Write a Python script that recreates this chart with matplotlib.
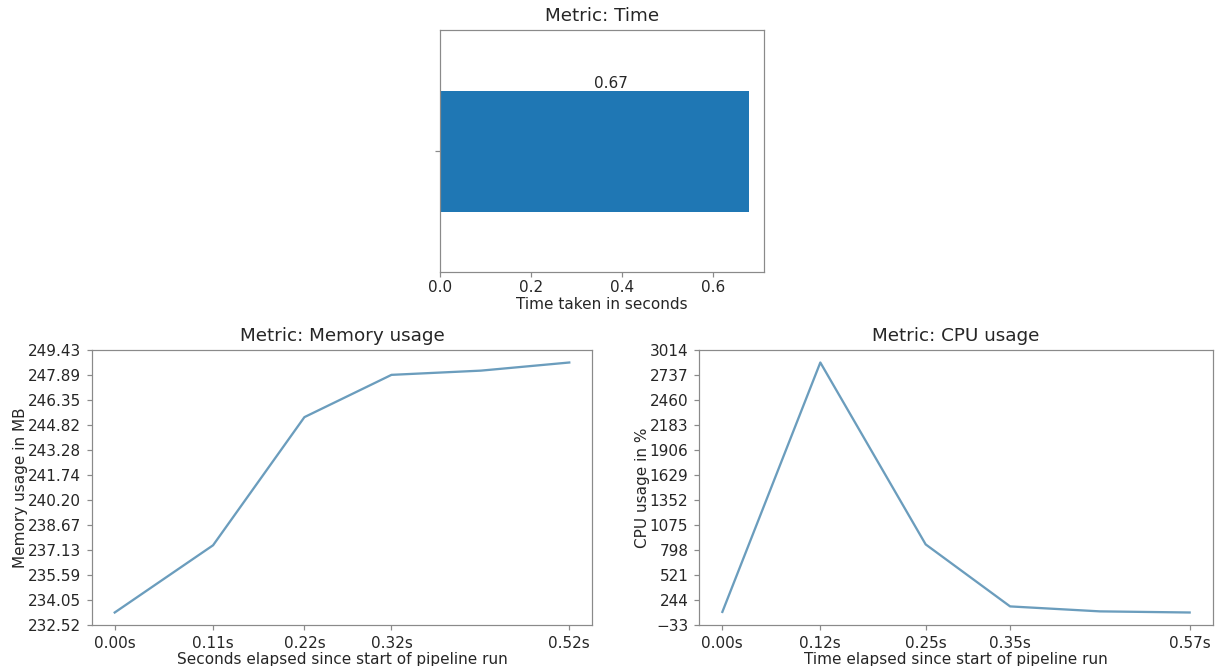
import numpy as np
import matplotlib
matplotlib.use("Agg")
import matplotlib.pyplot as plt

# values
time_taken = [0.678]
time_label = "0.67"

mem_x = [0.0, 0.1125, 0.217, 0.3166, 0.4189, 0.52]
mem_y = [233.285, 237.42, 245.30, 247.90, 248.16, 248.66]
mem_xticks = [0.0, 0.1125, 0.217, 0.3166, 0.52]

cpu_x = [0.0, 0.1195, 0.248, 0.351, 0.4605, 0.57]
cpu_y = [112.0, 2875.5, 860.0, 173.0, 118.0, 105.5]
cpu_xticks = [0.0, 0.1195, 0.248, 0.351, 0.57]

line_color = "#6b9dbd"
spine_color = "#8a8a8a"
text_color = "#262626"

plt.rcParams["text.color"] = text_color
plt.rcParams["axes.labelcolor"] = text_color
plt.rcParams["xtick.color"] = spine_color
plt.rcParams["ytick.color"] = spine_color
plt.rcParams["xtick.labelcolor"] = text_color
plt.rcParams["ytick.labelcolor"] = text_color
plt.rcParams["axes.edgecolor"] = spine_color

fig = plt.figure(figsize=(1217 / 110, 666 / 110), dpi=110)

W, H = 1217, 666
def box(l, t, r, b):
    return [l / W, 1 - b / H, (r - l) / W, (b - t) / H]

# top: time bar
ax1 = fig.add_axes(box(440, 30, 764, 272))
ax1.barh([0], time_taken, height=0.5, color="#1f77b4")
ax1.set_ylim(-0.5, 0.5)
ax1.set_xlim(0, time_taken[0] * 1.05)
ax1.set_yticks([0])
ax1.set_yticklabels([""])
ax1.text(time_taken[0] / 2, 0.25, time_label, ha="left", va="bottom", fontsize=10)
ax1.set_xticks([0.0, 0.2, 0.4, 0.6])
ax1.tick_params(axis="x", pad=2)
ax1.set_xlabel("Time taken in seconds", labelpad=1)
ax1.set_title("Metric: Time")

# bottom left: memory
ax2 = fig.add_axes(box(92, 350, 592, 625))
ax2.plot(mem_x, mem_y, color=line_color, lw=1.5)
lo, hi = ax2.get_ylim()
yt = np.linspace(lo, hi, 12)
ax2.set_yticks(yt)
ax2.set_yticklabels([f"{v:.2f}" for v in yt])
ax2.set_ylim(lo, hi)
ax2.set_xticks(mem_xticks)
ax2.set_xticklabels([f"{v:.2f}s" for v in mem_xticks])
ax2.set_xlabel("Seconds elapsed since start of pipeline run", labelpad=1)
ax2.set_ylabel("Memory usage in MB", labelpad=0)
ax2.set_title("Metric: Memory usage")

# bottom right: cpu
ax3 = fig.add_axes(box(699, 350, 1213, 625))
ax3.plot(cpu_x, cpu_y, color=line_color, lw=1.5)
lo, hi = ax3.get_ylim()
yt = np.linspace(lo, hi, 12)
ax3.set_yticks(yt)
ax3.set_yticklabels([f"{v:.0f}".replace("-", "\u2212") for v in yt])
ax3.set_ylim(lo, hi)
ax3.set_xticks(cpu_xticks)
ax3.set_xticklabels([f"{v:.2f}s" for v in cpu_xticks])
ax3.set_xlabel("Time elapsed since start of pipeline run", labelpad=1)
ax3.set_ylabel("CPU usage in %", labelpad=0)
ax3.set_title("Metric: CPU usage")

fig.savefig("out.png", dpi=110)
